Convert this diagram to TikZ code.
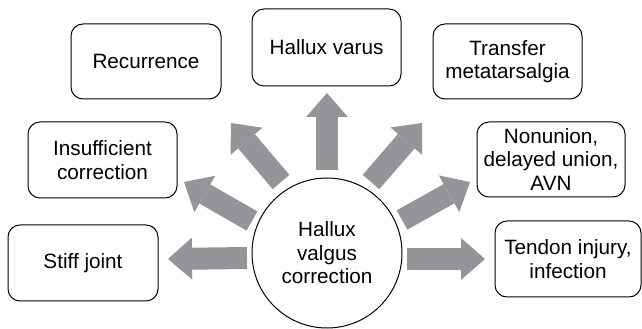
\documentclass[tikz,border=0pt]{standalone}
\usepackage{fontspec}
\setmainfont{Liberation Sans}
\usetikzlibrary{arrows.meta, positioning}
\definecolor{arrowgray}{RGB}{147,149,152}
\tikzset{x = 1pt, y = 1pt,
         every node/.style = {font = \fontsize{20.7}{23.5}\selectfont, align = center},
         outcome/.style = {draw, line width = 1pt, rounded corners = 12pt,
                           inner sep = 0pt},
         hub/.style = {draw, circle, line width = 1pt, minimum size = 150pt,
                       inner sep = 0pt},
         fatarrow/.style = {draw = arrowgray, line width = 22pt,
                            -{Triangle[length = 24pt, width = 42pt, line width = 0pt]}}}

\begin{document}
\begin{tikzpicture}
        \useasboundingbox (0,0) rectangle (642,329);

        \node[hub]                                                  (hv)   at (327,76)    {Hallux\\valgus\\correction};
        \node[outcome, minimum width = 150pt, minimum height = 75pt] (rec)  at (146,267.5) {Recurrence};
        \node[outcome, minimum width = 149pt, minimum height = 77pt] (var)  at (326.5,281.5) {Hallux varus};
        \node[outcome, minimum width = 149pt, minimum height = 75pt] (tra)  at (507.5,267.5) {Transfer\\metatarsalgia};
        \node[outcome, minimum width = 149pt, minimum height = 76pt] (ins)  at (102.5,169) {Insufficient\\correction};
        \node[outcome, minimum width = 148pt, minimum height = 75pt] (non)  at (551,169.5) {Nonunion,\\delayed union,\\AVN};
        \node[outcome, minimum width = 150pt, minimum height = 76pt] (sti)  at (83,66)     {Stiff joint};
        \node[outcome, minimum width = 146pt, minimum height = 76pt] (ten)  at (568,70)    {Tendon injury,\\infection};

        % arrow ends
        \coordinate (sti-s) at (247,71);   \coordinate (sti-e) at (168,70);
        \coordinate (ten-s) at (407,70);   \coordinate (ten-e) at (485,70);
        \coordinate (ins-s) at (252,108);  \coordinate (ins-e) at (184,147);
        \coordinate (non-s) at (402,109);  \coordinate (non-e) at (470,147);
        \coordinate (rec-s) at (281,147);  \coordinate (rec-e) at (231,206);
        \coordinate (tra-s) at (371,147);  \coordinate (tra-e) at (422,206);
        \coordinate (var-s) at (327,159);  \coordinate (var-e) at (327,236);

        \foreach \n in {sti, ten, ins, non, rec, tra, var}
            \draw[fatarrow] (\n-s) -- (\n-e);
    \end{tikzpicture}
\end{document}
